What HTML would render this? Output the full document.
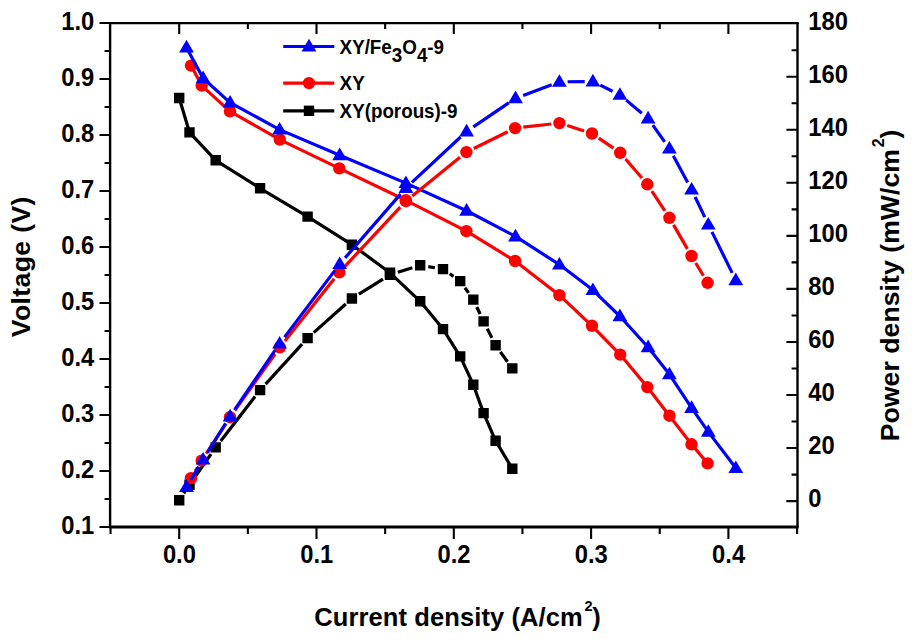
<!DOCTYPE html>
<html><head><meta charset="utf-8"><title>Polarization curves</title>
<style>
html,body{margin:0;padding:0;background:#fff;}
body{width:918px;height:642px;overflow:hidden;font-family:"Liberation Sans",sans-serif;}
svg{display:block;}
</style></head><body>
<svg width="918" height="642" viewBox="0 0 918 642">
<rect width="918" height="642" fill="#fff"/>
<path d="M108.9 23.1H798.7" stroke="#000" stroke-width="2.3"/>
<path d="M108.9 527H798.7" stroke="#000" stroke-width="2.9"/>
<path d="M110.1 23V527" stroke="#000" stroke-width="2.4"/>
<path d="M797.5 23V527" stroke="#000" stroke-width="2.4"/>
<path d="M110.1 23H99.5M110.1 51H104.6M110.1 79H99.5M110.1 107H104.6M110.1 135H99.5M110.1 163H104.6M110.1 191H99.5M110.1 219H104.6M110.1 247H99.5M110.1 275H104.6M110.1 303H99.5M110.1 331H104.6M110.1 359H99.5M110.1 387H104.6M110.1 415H99.5M110.1 443H104.6M110.1 471H99.5M110.1 499H104.6M110.1 527H99.5M797.5 501.1H786.4M797.5 474.58H791.6M797.5 448.05H786.4M797.5 421.53H791.6M797.5 395H786.4M797.5 368.48H791.6M797.5 341.95H786.4M797.5 315.43H791.6M797.5 288.9H786.4M797.5 262.38H791.6M797.5 235.85H786.4M797.5 209.33H791.6M797.5 182.8H786.4M797.5 156.28H791.6M797.5 129.75H786.4M797.5 103.23H791.6M797.5 76.7H786.4M797.5 50.18H791.6M110.55 527V533.9M179.2 527V539M179.2 23V34.1M247.85 527V533.9M247.85 23V28.9M316.5 527V539M316.5 23V34.1M385.15 527V533.9M385.15 23V28.9M453.8 527V539M453.8 23V34.1M522.45 527V533.9M522.45 23V28.9M591.1 527V539M591.1 23V34.1M659.75 527V533.9M659.75 23V28.9M728.4 527V539M728.4 23V34.1M797.05 527V533.9" fill="none" stroke="#000" stroke-width="2.1"/>
<polyline points="179.2,98 189.5,132.4 215.7,160.3 260.1,188.3 307.6,216.6 351.9,244.7 390,272.8 420.2,301.3 443,329.1 460.2,356.4 473.3,384.7 483.6,413.1 495.6,440.8 512.3,468.7" fill="none" stroke="#000000" stroke-width="3.2" stroke-linejoin="round"/>
<path d="M174 92.8h10.4v10.4h-10.4zM184.3 127.2h10.4v10.4h-10.4zM210.5 155.1h10.4v10.4h-10.4zM254.9 183.1h10.4v10.4h-10.4zM302.4 211.4h10.4v10.4h-10.4zM346.7 239.5h10.4v10.4h-10.4zM384.8 267.6h10.4v10.4h-10.4zM415 296.1h10.4v10.4h-10.4zM437.8 323.9h10.4v10.4h-10.4zM455 351.2h10.4v10.4h-10.4zM468.1 379.5h10.4v10.4h-10.4zM478.4 407.9h10.4v10.4h-10.4zM490.4 435.6h10.4v10.4h-10.4zM507.1 463.5h10.4v10.4h-10.4z" fill="#000000"/>
<polyline points="191,65.6 201.7,85.6 230,111.4 279.8,139.6 339.3,168.4 405.9,200.3 466.4,231.2 515.1,261 559.4,295.2 592,325.8 620.2,354.6 647.3,387.1 669.4,415.7 691.5,444.3 707.6,463.4" fill="none" stroke="#ff0000" stroke-width="3.2" stroke-linejoin="round"/>
<circle cx="191" cy="65.6" r="6.2" fill="#ff0000"/><circle cx="201.7" cy="85.6" r="6.2" fill="#ff0000"/><circle cx="230" cy="111.4" r="6.2" fill="#ff0000"/><circle cx="279.8" cy="139.6" r="6.2" fill="#ff0000"/><circle cx="339.3" cy="168.4" r="6.2" fill="#ff0000"/><circle cx="405.9" cy="200.3" r="6.2" fill="#ff0000"/><circle cx="466.4" cy="231.2" r="6.2" fill="#ff0000"/><circle cx="515.1" cy="261" r="6.2" fill="#ff0000"/><circle cx="559.4" cy="295.2" r="6.2" fill="#ff0000"/><circle cx="592" cy="325.8" r="6.2" fill="#ff0000"/><circle cx="620.2" cy="354.6" r="6.2" fill="#ff0000"/><circle cx="647.3" cy="387.1" r="6.2" fill="#ff0000"/><circle cx="669.4" cy="415.7" r="6.2" fill="#ff0000"/><circle cx="691.5" cy="444.3" r="6.2" fill="#ff0000"/><circle cx="707.6" cy="463.4" r="6.2" fill="#ff0000"/>
<polyline points="186.5,47.45 203.1,78.25 230.1,102.65 279.6,129.65 339.7,155.25 405.9,183.15 466.6,210.75 515.5,236.45 559.4,264.55 592.9,290.05 619.9,316.25 648.1,347.25 669.4,374.35 691.6,407.95 708.3,431.85 735.8,468.05" fill="none" stroke="#0000ff" stroke-width="3.2" stroke-linejoin="round"/>
<path d="M186.5 39.8L193.9 52.4L179.1 52.4zM203.1 70.6L210.5 83.2L195.7 83.2zM230.1 95L237.5 107.6L222.7 107.6zM279.6 122L287 134.6L272.2 134.6zM339.7 147.6L347.1 160.2L332.3 160.2zM405.9 175.5L413.3 188.1L398.5 188.1zM466.6 203.1L474 215.7L459.2 215.7zM515.5 228.8L522.9 241.4L508.1 241.4zM559.4 256.9L566.8 269.5L552 269.5zM592.9 282.4L600.3 295L585.5 295zM619.9 308.6L627.3 321.2L612.5 321.2zM648.1 339.6L655.5 352.2L640.7 352.2zM669.4 366.7L676.8 379.3L662 379.3zM691.6 400.3L699 412.9L684.2 412.9zM708.3 424.2L715.7 436.8L700.9 436.8zM735.8 460.4L743.2 473L728.4 473z" fill="#0000ff"/>
<path d="M183.74 493.37L184.96 491.53M194.21 477.99L210.99 454.11M220.72 440.92L255.08 396.58M265.63 384.05L302.07 344.15M313.71 332.64L345.79 303.96M358.85 294.16L383.05 279.04M397.83 272.26L412.37 267.74M428.29 266.65L434.91 267.75M449.73 273.79L453.47 276.41M464.94 287.79L468.56 292.91M476.8 307.01L480.1 313.99M487.29 328.72L491.91 337.88M500.39 351.86L507.51 361.74" fill="none" stroke="#000000" stroke-width="3.2"/>
<path d="M174 495h10.4v10.4h-10.4zM184.3 479.5h10.4v10.4h-10.4zM210.5 442.2h10.4v10.4h-10.4zM254.9 384.9h10.4v10.4h-10.4zM302.4 332.9h10.4v10.4h-10.4zM346.7 293.3h10.4v10.4h-10.4zM384.8 269.5h10.4v10.4h-10.4zM415 260.1h10.4v10.4h-10.4zM437.8 263.9h10.4v10.4h-10.4zM455 275.9h10.4v10.4h-10.4zM468.1 294.4h10.4v10.4h-10.4zM478.4 316.2h10.4v10.4h-10.4zM490.4 340h10.4v10.4h-10.4zM507.1 363.2h10.4v10.4h-10.4z" fill="#000000"/>
<path d="M195.26 471.19L197.44 467.61M206.18 453.73L225.52 424.07M234.76 410.52L275.04 354.08M284.89 340.97L334.21 278.73M344.91 266.32L400.29 207.18M412.27 196.03L460.03 157.27M473.76 148.48L507.74 131.72M523.25 127.18L551.25 124.02M567.21 125.59L584.19 131.01M598.77 138.13L613.43 148.17M625.55 159.02L641.95 178.08M651.82 191.14L664.88 210.96M673.51 224.9L687.39 248.9M695.72 263.03L703.38 275.77" fill="none" stroke="#ff0000" stroke-width="3.2"/>
<circle cx="191" cy="478.2" r="6.2" fill="#ff0000"/><circle cx="201.7" cy="460.6" r="6.2" fill="#ff0000"/><circle cx="230" cy="417.2" r="6.2" fill="#ff0000"/><circle cx="279.8" cy="347.4" r="6.2" fill="#ff0000"/><circle cx="339.3" cy="272.3" r="6.2" fill="#ff0000"/><circle cx="405.9" cy="201.2" r="6.2" fill="#ff0000"/><circle cx="466.4" cy="152.1" r="6.2" fill="#ff0000"/><circle cx="515.1" cy="128.1" r="6.2" fill="#ff0000"/><circle cx="559.4" cy="123.1" r="6.2" fill="#ff0000"/><circle cx="592" cy="133.5" r="6.2" fill="#ff0000"/><circle cx="620.2" cy="152.8" r="6.2" fill="#ff0000"/><circle cx="647.3" cy="184.3" r="6.2" fill="#ff0000"/><circle cx="669.4" cy="217.8" r="6.2" fill="#ff0000"/><circle cx="691.5" cy="256" r="6.2" fill="#ff0000"/><circle cx="707.6" cy="282.8" r="6.2" fill="#ff0000"/>
<path d="M190.76 479.94L198.84 466.66M207.45 452.7L225.75 423.4M234.71 409.67L274.99 350.43M284.54 337.11L334.76 270.59M345.08 257.86L400.52 194.14M411.9 182.36L460.6 137.04M473.38 126.84L508.72 102.86M523.18 95.38L551.72 84.72M567.6 81.75L584.7 81.55M600.25 85.1L612.55 91.2M626.19 100.11L641.81 113.19M652.84 125.14L664.66 141.86M673.3 155.76L687.7 182.44M695.14 197.05L704.76 217.15M711.93 231.9L732.17 272.9" fill="none" stroke="#0000ff" stroke-width="3.2"/>
<path d="M186.5 479.3L193.9 491.9L179.1 491.9zM203.1 452L210.5 464.6L195.7 464.6zM230.1 408.8L237.5 421.4L222.7 421.4zM279.6 336L287 348.6L272.2 348.6zM339.7 256.4L347.1 269L332.3 269zM405.9 180.3L413.3 192.9L398.5 192.9zM466.6 123.8L474 136.4L459.2 136.4zM515.5 90.6L522.9 103.2L508.1 103.2zM559.4 74.2L566.8 86.8L552 86.8zM592.9 73.8L600.3 86.4L585.5 86.4zM619.9 87.2L627.3 99.8L612.5 99.8zM648.1 110.8L655.5 123.4L640.7 123.4zM669.4 140.9L676.8 153.5L662 153.5zM691.6 182L699 194.6L684.2 194.6zM708.3 216.9L715.7 229.5L700.9 229.5zM735.8 272.6L743.2 285.2L728.4 285.2z" fill="#0000ff"/>
<path d="M283.2 46.5H334.3" stroke="#0000ff" stroke-width="3.2"/>
<path d="M283.2 83.1H334.3" stroke="#ff0000" stroke-width="3.2"/>
<path d="M283.2 110.8H334.3" stroke="#000000" stroke-width="3.2"/>
<path d="M309 38.85L316.4 51.45L301.6 51.45z" fill="#0000ff"/>
<circle cx="309" cy="83.1" r="6.2" fill="#ff0000"/>
<path d="M303.8 105.6h10.4v10.4h-10.4z" fill="#000000"/>
<g font-family="'Liberation Sans', sans-serif" font-weight="bold" fill="#000">
<text transform="translate(339.6 54.2) scale(0.94 1)" font-size="20">XY/Fe<tspan dy="7.8">3</tspan><tspan dy="-7.8">O</tspan><tspan dy="7.8">4</tspan><tspan dy="-7.8">-9</tspan></text>
<text transform="translate(339.6 90.2) scale(0.94 1)" font-size="20">XY</text>
<text transform="translate(339.6 118.1) scale(0.94 1)" font-size="20">XY(porous)-9</text>
<text transform="translate(94.3 29.6) scale(0.95 1)" font-size="25" text-anchor="end">1.0</text>
<text transform="translate(94.3 85.6) scale(0.95 1)" font-size="25" text-anchor="end">0.9</text>
<text transform="translate(94.3 141.6) scale(0.95 1)" font-size="25" text-anchor="end">0.8</text>
<text transform="translate(94.3 197.6) scale(0.95 1)" font-size="25" text-anchor="end">0.7</text>
<text transform="translate(94.3 253.6) scale(0.95 1)" font-size="25" text-anchor="end">0.6</text>
<text transform="translate(94.3 309.6) scale(0.95 1)" font-size="25" text-anchor="end">0.5</text>
<text transform="translate(94.3 365.6) scale(0.95 1)" font-size="25" text-anchor="end">0.4</text>
<text transform="translate(94.3 421.6) scale(0.95 1)" font-size="25" text-anchor="end">0.3</text>
<text transform="translate(94.3 477.6) scale(0.95 1)" font-size="25" text-anchor="end">0.2</text>
<text transform="translate(94.3 533.6) scale(0.95 1)" font-size="25" text-anchor="end">0.1</text>
<text transform="translate(808.3 507.4) scale(0.95 1)" font-size="25" text-anchor="start">0</text>
<text transform="translate(808.3 454.35) scale(0.95 1)" font-size="25" text-anchor="start">20</text>
<text transform="translate(808.3 401.3) scale(0.95 1)" font-size="25" text-anchor="start">40</text>
<text transform="translate(808.3 348.25) scale(0.95 1)" font-size="25" text-anchor="start">60</text>
<text transform="translate(808.3 295.2) scale(0.95 1)" font-size="25" text-anchor="start">80</text>
<text transform="translate(808.3 242.15) scale(0.95 1)" font-size="25" text-anchor="start">100</text>
<text transform="translate(808.3 189.1) scale(0.95 1)" font-size="25" text-anchor="start">120</text>
<text transform="translate(808.3 136.05) scale(0.95 1)" font-size="25" text-anchor="start">140</text>
<text transform="translate(808.3 83) scale(0.95 1)" font-size="25" text-anchor="start">160</text>
<text transform="translate(808.3 29.95) scale(0.95 1)" font-size="25" text-anchor="start">180</text>
<text transform="translate(179.4 562.7) scale(0.95 1)" font-size="25" text-anchor="middle">0.0</text>
<text transform="translate(316.7 562.7) scale(0.95 1)" font-size="25" text-anchor="middle">0.1</text>
<text transform="translate(454 562.7) scale(0.95 1)" font-size="25" text-anchor="middle">0.2</text>
<text transform="translate(591.3 562.7) scale(0.95 1)" font-size="25" text-anchor="middle">0.3</text>
<text transform="translate(728.6 562.7) scale(0.95 1)" font-size="25" text-anchor="middle">0.4</text>
<text x="457.6" y="625.8" font-size="25.5" text-anchor="middle" textLength="286.5" lengthAdjust="spacing">Current density (A/cm<tspan font-size="14.5" dx="1.7" dy="-14.5">2</tspan><tspan dx="-0.3" dy="14.5">)</tspan></text>
<text transform="translate(29.6 266.9) rotate(-90)" font-size="26.6" text-anchor="middle" textLength="140.5" lengthAdjust="spacing">Voltage (V)</text>
<text transform="translate(899 285.5) rotate(-90)" font-size="26.6" text-anchor="middle" textLength="311.5" lengthAdjust="spacing">Power density (mW/cm<tspan font-size="16" dx="1.7" dy="-15.2">2</tspan><tspan dx="-0.3" dy="15.2">)</tspan></text>
</g>
</svg>
</body></html>
